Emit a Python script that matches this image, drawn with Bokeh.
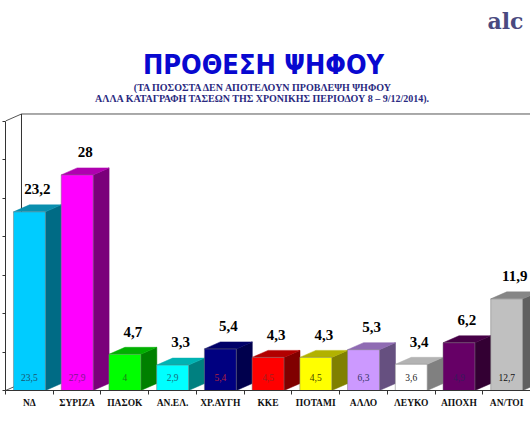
from bokeh.plotting import figure
from bokeh.models import ColumnDataSource, Range1d, FixedTicker, Label
from bokeh.core.properties import value
from bokeh.embed import file_html
from bokeh.resources import INLINE

categories = ["ΝΔ", "ΣΥΡΙΖΑ", "ΠΑΣΟΚ", "ΑΝ.ΕΛ.", "ΧΡ.ΑΥΓΗ", "ΚΚΕ", "ΠΟΤΑΜΙ", "ΑΛΛΟ", "ΛΕΥΚΟ", "ΑΠΟΧΗ", "ΑΝ/ΤΟΙ"]
intent = [23.2, 28, 4.7, 3.3, 5.4, 4.3, 4.3, 5.3, 3.4, 6.2, 11.9]
previous = [23.5, 27.9, 4, 2.9, 5.4, 4.5, 4.5, 6.3, 3.6, 4.9, 12.7]
intent_labels = ["23,2", "28", "4,7", "3,3", "5,4", "4,3", "4,3", "5,3", "3,4", "6,2", "11,9"]
previous_labels = ["23,5", "27,9", "4", "2,9", "5,4", "4,5", "4,5", "6,3", "3,6", "4,9", "12,7"]
front = ["#00ccff", "#ff00ff", "#00ff00", "#00ffff", "#000080", "#ff0000", "#ffff00", "#cc99ff", "#ffffff", "#660066", "#c0c0c0"]
top = ["#0a8fae", "#b000b0", "#00b000", "#00b3b3", "#000068", "#b20000", "#b2b200", "#8f6bb3", "#b3b3b3", "#470047", "#868686"]
side = ["#006b85", "#7a007a", "#008000", "#008080", "#00004d", "#800000", "#808000", "#665080", "#808080", "#330033", "#606060"]
inner_colors = ["#1a5570", "#7a1a8a", "#1a7a1a", "#1a6a7a", "#b02040", "#9a2020", "#444400", "#333366", "#222222", "#3a1a5a", "#111111"]

W, H = 530, 442
BASE_PX = 390
LEFT_PX = 5
BAR_L, BAR_R = 0.167, 0.836   # bar inside category slot
DX, DY = 0.335, 0.91          # 3D depth in axis units
YMAX_AXIS = 35
n = len(categories)

p = figure(width=W, height=H, output_backend="svg", toolbar_location=None,
           x_range=Range1d(0, n), y_range=Range1d(0, BASE_PX / 7.7),
           min_border_left=LEFT_PX, min_border_right=0, min_border_top=0, min_border_bottom=H - BASE_PX,
           background_fill_color="white", border_fill_color="white", outline_line_color=None)
p.grid.visible = False

# axes
xa = p.xaxis[0]
xa.ticker = FixedTicker(ticks=[i + 0.5 for i in range(n)], minor_ticks=list(range(n + 1)))
xa.major_label_overrides = {i + 0.5: c for i, c in enumerate(categories)}
xa.major_tick_out = 0
xa.major_tick_in = 0
xa.minor_tick_out = 4
xa.minor_tick_in = 0
xa.major_label_standoff = 3
xa.major_label_text_font = "Liberation Serif"
xa.major_label_text_font_style = "bold"
xa.major_label_text_font_size = "9.5px"
xa.major_label_text_color = "#111111"
xa.axis_line_color = "#333333"
xa.minor_tick_line_color = "#333333"

ya = p.yaxis[0]
ya.ticker = FixedTicker(ticks=list(range(0, YMAX_AXIS + 1, 5)))
ya.bounds = (0, YMAX_AXIS)
ya.major_label_overrides = {v: "" for v in range(0, YMAX_AXIS + 1, 5)}
ya.major_label_standoff = 0
ya.major_label_text_font_size = "1px"
ya.major_tick_out = 3
ya.major_tick_in = 0
ya.minor_tick_line_color = None
ya.axis_line_color = "#333333"
ya.major_tick_line_color = "#333333"

# back wall
p.line([0, DX, n], [YMAX_AXIS, YMAX_AXIS + DY, YMAX_AXIS + DY], line_color="#555555", line_width=1)
p.line([DX, DX], [DY, YMAX_AXIS + DY], line_color="#333333", line_width=1)
p.line([0, DX], [0, DY], line_color="#555555", line_width=1)

# 3D bars
for i, v in enumerate(intent):
    l, r = i + BAR_L, i + BAR_R
    p.patch([r, r + DX, r + DX, r], [0, DY, v + DY, v], fill_color=side[i], line_color=side[i], line_width=0.5)
    p.patch([l, r, r + DX, l + DX], [v, v, v + DY, v + DY], fill_color=top[i], line_color=top[i], line_width=0.5)
    p.quad(left=l, right=r, bottom=0, top=v, fill_color=front[i], line_color="#777777", line_width=0.5)

# data labels
src = ColumnDataSource(dict(
    xc=[i + (BAR_L + BAR_R + DX) / 2 for i in range(n)],
    yt=[v + DY + 2.05 for v in intent],
    t=intent_labels,
))
p.text("xc", "yt", text="t", source=src, text_align="center", text_baseline="alphabetic",
       text_font=value("Liberation Serif"), text_font_style="bold", text_font_size="15px", text_color="#000000")

src2 = ColumnDataSource(dict(
    xc=[i + (BAR_L + BAR_R) / 2 for i in range(n)],
    yt=[1.72] * n,
    t=previous_labels,
    c=inner_colors,
))
p.text("xc", "yt", text="t", text_color="c", source=src2, text_align="center", text_baseline="alphabetic",
       text_font=value("Liberation Serif"), text_font_size="9.5px")

# headings (screen positions are measured from the frame's bottom-left corner)
def lab(text, x, y, size, color, font, align="center"):
    p.add_layout(Label(x=x - LEFT_PX, y=BASE_PX - y, x_units="screen", y_units="screen", text=text, text_align=align,
                       text_baseline="alphabetic", text_font=font, text_font_style="bold",
                       text_font_size=size, text_color=color))

lab("ΠΡΟΘΕΣΗ ΨΗΦΟΥ", 263, 64, "27px", "#0808d0", "DejaVu Sans Condensed")
lab("(ΤΑ ΠΟΣΟΣΤΑ ΔΕΝ ΑΠΟΤΕΛΟΥΝ ΠΡΟΒΛΕΨΗ ΨΗΦΟΥ", 263, 87, "10px", "#2a2a80", "Liberation Serif")
lab("ΑΛΛΑ ΚΑΤΑΓΡΑΦΗ ΤΑΣΕΩΝ ΤΗΣ ΧΡΟΝΙΚΗΣ ΠΕΡΙΟΔΟΥ 8 – 9/12/2014).", 262, 98, "10px", "#2a2a80", "Liberation Serif")
lab("alc", 487, 20, "22px", "#4a4a80", "DejaVu Serif", "left")

open("out.html", "w").write(file_html(p, INLINE))
